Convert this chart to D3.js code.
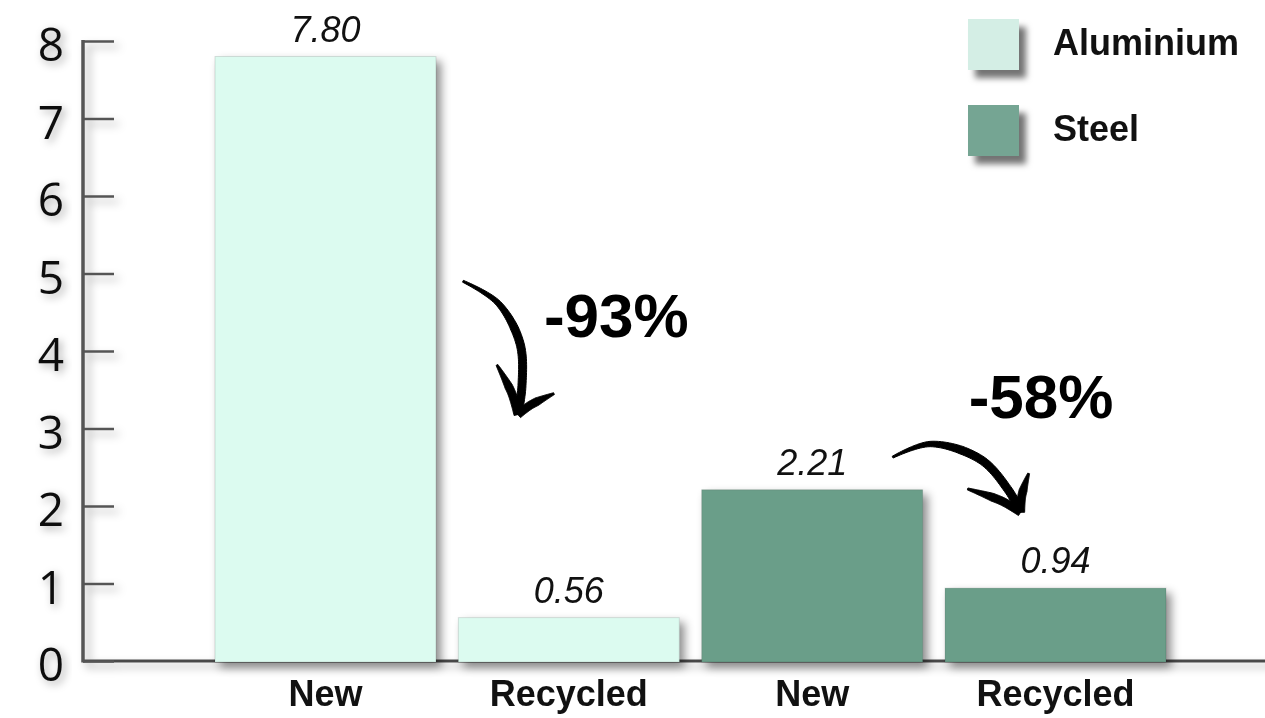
<!DOCTYPE html>
<html>
<head>
<meta charset="utf-8">
<script src="https://cdn.jsdelivr.net/npm/d3@7"></script>
<style>
  html, body { margin: 0; padding: 0; background: #fff; }
  svg { display: block; }
</style>
</head>
<body>
<svg id="chart" width="1265" height="718"></svg>
<script>
// Energy per unit: new vs recycled metal
const categories = ["New", "Recycled", "New", "Recycled"];
const materials = ["Aluminium", "Aluminium", "Steel", "Steel"];
const values = [7.80, 0.56, 2.21, 0.94];
const valueLabels = ["7.80", "0.56", "2.21", "0.94"];
const seriesNames = ["Aluminium", "Steel"];
const seriesColors = ["#dcfbf0", "#6a9e89"];
const legendColors = ["#d4eee5", "#74a593"];
const yTicks = [0, 1, 2, 3, 4, 5, 6, 7, 8];
const reductions = ["-93%", "-58%"];

const svg = d3.select("#chart");
const W = 1265, H = 718;

const defs = svg.append("defs");
function shadow(id, dx, dy, sd, op) {
  defs.append("filter").attr("id", id)
    .attr("x", "-30%").attr("y", "-30%").attr("width", "160%").attr("height", "160%")
    .append("feDropShadow")
    .attr("dx", dx).attr("dy", dy).attr("stdDeviation", sd)
    .attr("flood-color", "#000").attr("flood-opacity", op);
}
shadow("barShadow", 5, 5, 5, 0.45);
shadow("axisShadow", 5, 5, 4, 0.3);
shadow("textGlow", 3, 3, 4, 0.35);
shadow("legendShadow", 7, 8, 3, 0.55);

const x0 = 83;          // y-axis position
const keys = d3.range(values.length);
const x = d3.scaleBand().domain(keys).range([215, 1166]).paddingInner(0.092).paddingOuter(0);
const y = d3.scaleLinear().domain([0, 8]).range([661, 41]);
const color = d3.scaleOrdinal().domain(seriesNames).range(seriesColors);

// axes
const axisG = svg.append("g").attr("filter", "url(#axisShadow)");
axisG.append("line")
  .attr("x1", x0).attr("x2", W + 10)
  .attr("y1", y(0)).attr("y2", y(0))
  .attr("stroke", "#4a4a4a").attr("stroke-width", 3);

const yAxis = d3.axisRight(y).tickValues(yTicks).tickSize(31).tickFormat("");
const yG = axisG.append("g").attr("transform", `translate(${x0},0)`).call(yAxis);
yG.select(".domain").remove();
yG.selectAll(".tick line").attr("stroke", "#555").attr("stroke-width", 2.5);
axisG.append("line")
  .attr("x1", x0).attr("x2", x0)
  .attr("y1", y(8) - 1).attr("y2", y(0) + 1.5)
  .attr("stroke", "#555").attr("stroke-width", 3.5);

// tick labels
svg.append("g").attr("filter", "url(#textGlow)")
  .selectAll("text").data(yTicks).join("text")
  .attr("x", 64).attr("y", d => y(d) + 20)
  .attr("text-anchor", "end")
  .attr("font-family", "'Open Sans', sans-serif")
  .attr("font-size", 46)
  .attr("fill", "#111")
  .text(d => d);

// bars
svg.append("g").attr("filter", "url(#barShadow)")
  .selectAll("rect").data(keys).join("rect")
  .attr("x", i => x(i))
  .attr("y", i => y(values[i]))
  .attr("width", x.bandwidth())
  .attr("height", i => y(0) - y(values[i]) + 1)
  .attr("fill", i => color(materials[i]))
  .attr("stroke", "rgba(0,0,0,0.12)")
  .attr("stroke-width", 1);

// value labels
svg.append("g").selectAll("text").data(keys).join("text")
  .attr("x", i => x(i) + x.bandwidth() / 2)
  .attr("y", i => y(values[i]) - 15)
  .attr("text-anchor", "middle")
  .attr("font-family", "'Liberation Sans', Arial, sans-serif")
  .attr("font-style", "italic")
  .attr("font-size", 36)
  .attr("fill", "#111")
  .text(i => valueLabels[i]);

// category labels
svg.append("g").selectAll("text").data(keys).join("text")
  .attr("x", i => x(i) + x.bandwidth() / 2)
  .attr("y", 706)
  .attr("text-anchor", "middle")
  .attr("font-family", "'Liberation Sans', Arial, sans-serif")
  .attr("font-weight", "bold")
  .attr("font-size", 36)
  .attr("fill", "#111")
  .text(i => categories[i]);

// legend
const legend = svg.append("g");
const legendRows = legend.selectAll("g").data(seriesNames).join("g")
  .attr("transform", (d, i) => `translate(968,${19 + i * 86})`);
legendRows.append("rect")
  .attr("width", 51).attr("height", 51)
  .attr("fill", (d, i) => legendColors[i])
  .attr("filter", "url(#legendShadow)");
legendRows.append("text")
  .attr("x", 85).attr("y", 36)
  .attr("font-family", "'Liberation Sans', Arial, sans-serif")
  .attr("font-weight", "bold")
  .attr("font-size", 36)
  .attr("fill", "#111")
  .text(d => d);

// curved reduction arrows, drawn as tapered brush strokes
function brushStroke(g, pts, w0, w1) {
  const line = d3.line().curve(d3.curveCatmullRom.alpha(0.5));
  const tmp = g.append("path").attr("d", line(pts)).attr("fill", "none");
  const node = tmp.node();
  const L = node.getTotalLength();
  const n = 60;
  const left = [], right = [];
  for (let k = 0; k <= n; k++) {
    const t = k / n;
    const p = node.getPointAtLength(t * L);
    const q = node.getPointAtLength(Math.min(L, t * L + 0.5));
    const r = node.getPointAtLength(Math.max(0, t * L - 0.5));
    const dx = q.x - r.x, dy = q.y - r.y, len = Math.hypot(dx, dy) || 1;
    const nx = -dy / len, ny = dx / len;
    const w = (w0 + (w1 - w0) * Math.min(1, t / 0.45)) / 2;
    left.push([p.x + nx * w, p.y + ny * w]);
    right.push([p.x - nx * w, p.y - ny * w]);
  }
  tmp.remove();
  const outline = left.concat(right.reverse());
  g.append("path")
    .attr("d", d3.line().curve(d3.curveLinearClosed)(outline))
    .attr("fill", "#000")
    .attr("stroke", "#000").attr("stroke-width", 1).attr("stroke-linejoin", "round");
}

function arrow(g, pts, armL, armR) {
  const tip = pts[pts.length - 1];
  brushStroke(g, pts, 2, 8);
  brushStroke(g, [armL, [(armL[0] * 0.4 + tip[0] * 0.6) + 2, (armL[1] * 0.4 + tip[1] * 0.6) - 2], tip], 2, 8);
  brushStroke(g, [armR, [(armR[0] * 0.4 + tip[0] * 0.6) - 2, (armR[1] * 0.4 + tip[1] * 0.6) - 1], tip], 2, 8);
}

const ann = svg.append("g");
// aluminium: from right of the new bar down onto the recycled bar
{
  const bx = x(0) + x.bandwidth();
  arrow(ann,
    [[bx + 27, y(4.9)], [bx + 62, y(4.62)], [bx + 84, y(4.1)], [bx + 86, y(3.55)], [bx + 82, y(3.18)]],
    [bx + 61, y(3.82)], [bx + 118, y(3.45)]);
  ann.append("text")
    .attr("x", bx + 108).attr("y", y(4.18))
    .attr("font-family", "'Liberation Sans', Arial, sans-serif")
    .attr("font-weight", "bold").attr("font-size", 62).attr("fill", "#000")
    .text(reductions[0]);
}
// steel: from above the new bar over to the recycled bar
{
  const bx = x(2) + x.bandwidth();
  arrow(ann,
    [[bx - 30, y(2.63)], [bx + 8, y(2.8)], [bx + 58, y(2.6)], [bx + 86, y(2.2)], [bx + 98, y(1.92)]],
    [bx + 45, y(2.22)], [bx + 106, y(2.42)]);
  ann.append("text")
    .attr("x", bx + 46).attr("y", y(3.14))
    .attr("font-family", "'Liberation Sans', Arial, sans-serif")
    .attr("font-weight", "bold").attr("font-size", 62).attr("fill", "#000")
    .text(reductions[1]);
}
</script>
</body>
</html>
